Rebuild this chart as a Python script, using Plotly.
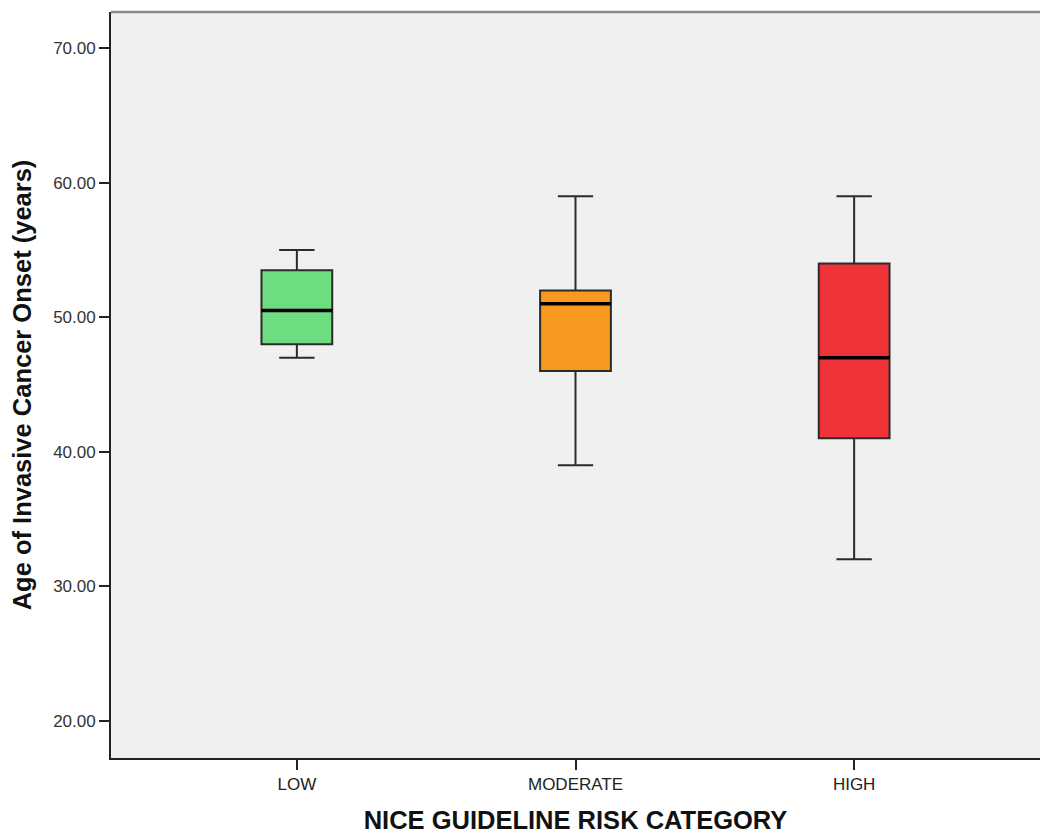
import plotly.graph_objects as go

# Risk categories and five-number summaries of age at invasive cancer onset
categories = ["LOW", "MODERATE", "HIGH"]
lower_whisker = [47.0, 39.0, 32.0]
q1_values = [48.0, 46.0, 41.0]
median_values = [50.5, 51.0, 47.0]
q3_values = [53.5, 52.0, 54.0]
upper_whisker = [55.0, 59.0, 59.0]
fill_colors = ["#6edc80", "#f8981e", "#ef3339"]

y_ticks = [20, 30, 40, 50, 60, 70]
y_tick_text = [f"{v:.2f}" for v in y_ticks]

box_width = 0.254
font_family = "Liberation Sans, Arial, sans-serif"

fig = go.Figure()

for i, cat in enumerate(categories):
    fig.add_trace(go.Box(
        x=[i],
        q1=[q1_values[i]],
        median=[median_values[i]],
        q3=[q3_values[i]],
        lowerfence=[lower_whisker[i]],
        upperfence=[upper_whisker[i]],
        name=cat,
        width=box_width,
        whiskerwidth=0.5,
        fillcolor=fill_colors[i],
        line=dict(color="#2b2b2b", width=2),
        boxpoints=False,
        showlegend=False,
    ))
    # heavier median bar drawn over the box
    fig.add_trace(go.Scatter(
        x=[i - box_width / 2, i + box_width / 2],
        y=[median_values[i], median_values[i]],
        mode="lines",
        line=dict(color="#000000", width=3.5),
        hoverinfo="skip",
        showlegend=False,
    ))

fig.update_layout(
    width=1040,
    height=834,
    margin=dict(l=111, r=0, t=12, b=76),
    paper_bgcolor="#ffffff",
    plot_bgcolor="#f0f0f0",
    font=dict(family=font_family, color="#222222", size=17),
    xaxis=dict(
        range=[-0.667, 2.667],
        tickmode="array",
        tickvals=list(range(len(categories))),
        ticktext=categories,
        ticks="outside",
        ticklen=10,
        tickwidth=1.5,
        tickcolor="#222222",
        showgrid=False,
        zeroline=False,
        showline=True,
        linecolor="#222222",
        linewidth=1.8,
        tickfont=dict(size=17, color="#222222"),
        title=dict(text="<b>NICE GUIDELINE RISK CATEGORY</b>",
                   font=dict(size=25.5, color="#111111"), standoff=19),
    ),
    yaxis=dict(
        range=[17.23, 72.7],
        tickmode="array",
        tickvals=y_ticks,
        ticktext=y_tick_text,
        ticks="outside",
        ticklen=10,
        tickwidth=1.5,
        tickcolor="#222222",
        showgrid=False,
        zeroline=False,
        showline=True,
        linecolor="#222222",
        linewidth=1.8,
        tickfont=dict(size=17, color="#333333"),
        title=dict(text="<b>Age of Invasive Cancer Onset (years)</b>",
                   font=dict(size=25.5, color="#111111"), standoff=14),
    ),
    shapes=[dict(
        type="line", xref="paper", yref="paper",
        x0=0, x1=1, y0=1, y1=1,
        line=dict(color="#8a8a8a", width=2.5),
    )],
)

fig.write_html("out.html")
